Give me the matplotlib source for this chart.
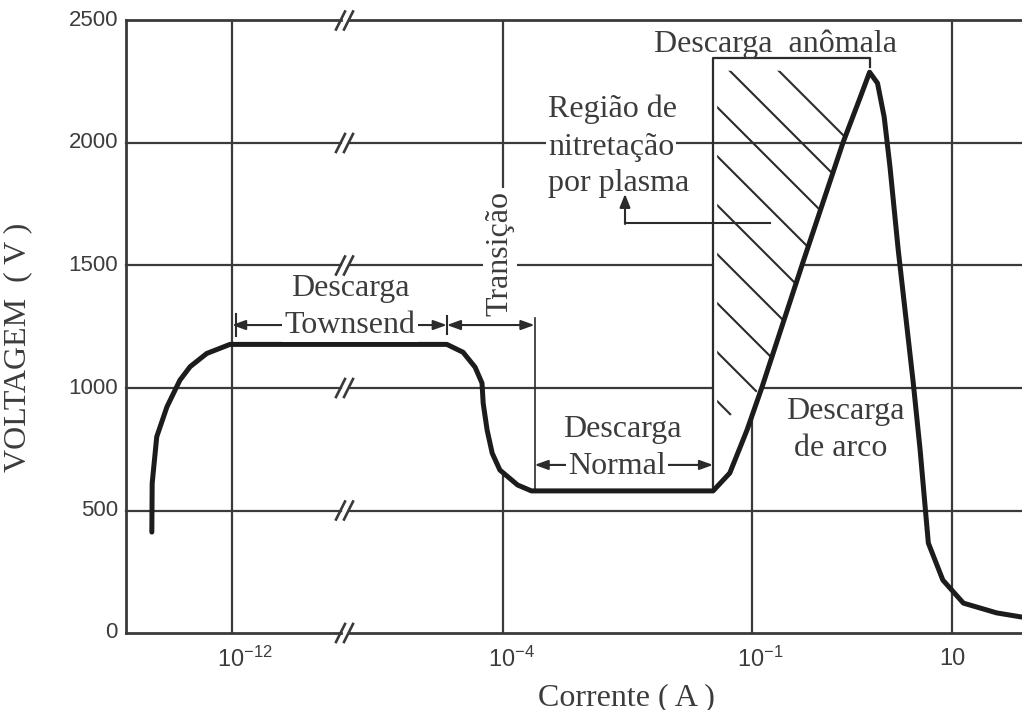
import numpy as np
import matplotlib
matplotlib.use("Agg")
import matplotlib.pyplot as plt
from matplotlib.patches import Polygon, FancyArrowPatch
from matplotlib.lines import Line2D

# ---- discharge curve: current (A) vs. voltage (V) ----
CURRENT_A = [4.3e-15, 4.4e-15, 6.0e-15, 1.2e-14, 2.9e-14, 5.8e-14, 1.8e-13, 8.7e-13,
             2.2e-6, 6.6e-6, 1.5e-5, 2.4e-5, 2.6e-5, 3.4e-5, 4.8e-5, 8.1e-5, 1.5e-4, 2.2e-4,
             3.4e-2, 5.4e-2, 8.7e-2, 0.126, 0.316, 0.81, 1.2, 1.5,
             1.8, 2.1, 2.4, 2.9, 4.1, 4.8, 5.8, 8.1, 13.0, 28.0, 50.0]
VOLTAGE_V = [412, 611, 801, 923, 1032, 1087, 1141, 1178,
             1178, 1146, 1085, 1020, 938, 828, 734, 665, 604, 580,
             580, 653, 828, 1004, 1501, 2000, 2183, 2289,
             2244, 2105, 1901, 1563, 1020, 747, 367, 216, 122, 82, 65]

# region limits along the current axis (A)
TOWNSEND_START = 1e-12
TOWNSEND_END = 2.2e-6
TRANSITION_END = 2.4e-4
NORMAL_END = 3.4e-2
ANOMALOUS_PEAK = 1.5

Y_TICKS = [0, 500, 1000, 1500, 2000, 2500]
X_TICKS = [1e-12, 1e-4, 1e-1, 10]
X_TICK_LABELS = [r"$\mathregular{10^{-12}}$", r"$\mathregular{10^{-4}}$",
                 r"$\mathregular{10^{-1}}$", "10"]

# ---- broken logarithmic current axis (different spacing per decade range) ----
LOG_KNOTS = np.array([-12.0, -4.0, -1.0, 1.0])
POS_KNOTS = np.array([0.0, 271.0, 520.0, 720.0])
S_LO = (POS_KNOTS[1] - POS_KNOTS[0]) / (LOG_KNOTS[1] - LOG_KNOTS[0])
S_HI = (POS_KNOTS[-1] - POS_KNOTS[-2]) / (LOG_KNOTS[-1] - LOG_KNOTS[-2])


def _fwd(x):
    lx = np.log10(np.maximum(np.asarray(x, float), 1e-300))
    y = np.interp(lx, LOG_KNOTS, POS_KNOTS)
    y = np.where(lx < LOG_KNOTS[0], POS_KNOTS[0] + (lx - LOG_KNOTS[0]) * S_LO, y)
    y = np.where(lx > LOG_KNOTS[-1], POS_KNOTS[-1] + (lx - LOG_KNOTS[-1]) * S_HI, y)
    return y


def _inv(p):
    p = np.asarray(p, float)
    lx = np.interp(p, POS_KNOTS, LOG_KNOTS)
    lx = np.where(p < POS_KNOTS[0], LOG_KNOTS[0] + (p - POS_KNOTS[0]) / S_LO, lx)
    lx = np.where(p > POS_KNOTS[-1], LOG_KNOTS[-1] + (p - POS_KNOTS[-1]) / S_HI, lx)
    return 10.0 ** lx


plt.rcParams["mathtext.fontset"] = "custom"
plt.rcParams["mathtext.rm"] = "Liberation Sans"

INK = "#2b2b2b"
GRID = "#3a3a3a"
TXT = "#3c3c3c"
SERIF = "Liberation Serif"
SANS = "Liberation Sans"
FS = 23

W, H = 1022, 710
fig = plt.figure(figsize=(W / 100, H / 100), dpi=100)
fig.patch.set_facecolor("white")


def fxy(px, py):
    return (px / W, 1 - py / H)


ax = fig.add_axes([126 / W, 1 - 633 / H, (W - 126) / W, (633 - 20.5) / H])
ax.set_xscale("function", functions=(_fwd, _inv))
ax.set_xlim(_inv(-106), _inv(790))
ax.set_ylim(0, 2500)
ax.set_xticks([])
ax.set_yticks([])
for side in ["top", "right", "bottom"]:
    ax.spines[side].set_visible(False)
ax.spines["left"].set_color(GRID)
ax.spines["left"].set_linewidth(2)

xlo, xhi = ax.get_xlim()
cur = np.array(CURRENT_A)
volt = np.array(VOLTAGE_V)
rise = slice(18, 26)


def to_fig(x, v):
    d = ax.transData.transform((x, v))
    return fig.transFigure.inverted().transform(d)


# ---- horizontal grid lines with axis-break marks ----
brk_l, brk_r = _inv(341 - 232), _inv(350 - 232)
for v in Y_TICKS:
    lw = 2.0 if v in (0, 2500) else 1.6
    ax.plot([xlo, brk_l], [v, v], color=GRID, lw=lw, zorder=1, clip_on=False)
    ax.plot([brk_r, xhi], [v, v], color=GRID, lw=lw, zorder=1, clip_on=False)
    bx, by = to_fig(brk_l, v)
    for dx in (0.0, 8.0):
        x0 = bx + (dx - 5) / W
        ax.add_line(Line2D([x0, x0 + 9 / W], [by - 9 / H, by + 9 / H],
                           transform=fig.transFigure, color=GRID, lw=1.9,
                           zorder=1.2, clip_on=False))

# ---- vertical grid lines ----
v_cross = np.interp(np.log10(0.1), np.log10(cur[rise]), volt[rise])
ax.plot([1e-12, 1e-12], [0, 2500], color=GRID, lw=1.6, zorder=1)
ax.plot([10, 10], [0, 2500], color=GRID, lw=1.6, zorder=1)
ax.plot([1e-4, 1e-4], [0, 645], color=GRID, lw=1.6, zorder=1)
ax.plot([1e-4, 1e-4], [1820, 2500], color=GRID, lw=1.6, zorder=1)
ax.plot([1e-1, 1e-1], [0, v_cross], color=GRID, lw=1.6, zorder=1)

# ---- blank area inside the anomalous-discharge box ----
rc, rv = cur[rise], volt[rise]
top_mask = 1800
x_top = 10 ** np.interp(top_mask, rv, np.log10(rc))
keep = rv < top_mask
mask_verts = [(NORMAL_END, 580), (NORMAL_END, top_mask), (x_top, top_mask)]
mask_verts += [(c, v) for c, v in zip(rc[keep][::-1], rv[keep][::-1])]
ax.add_patch(Polygon(mask_verts, closed=True, facecolor="white",
                     edgecolor="none", zorder=1.5))

# ---- hatching of the plasma nitriding region ----
clip_verts = [(NORMAL_END * 1.12, 840), (NORMAL_END * 1.12, 2295), (ANOMALOUS_PEAK, 2295)]
clip_verts += [(c, v) for c, v in zip(rc[::-1], rv[::-1]) if v > 840]
clip_poly = Polygon(clip_verts, closed=True, transform=ax.transData)
for c in np.arange(-708, -300, 49):
    x0, x1 = 700, 900
    l = Line2D([x0 / W, x1 / W], [1 - (x0 + c) / H, 1 - (x1 + c) / H],
               transform=fig.transFigure, color=INK, lw=1.5, zorder=2)
    ax.add_line(l)
    l.set_clip_path(clip_poly)

# ---- discharge curve ----
ax.plot(CURRENT_A, VOLTAGE_V, color="#1c1c1c", lw=3.6, zorder=3,
        solid_joinstyle="round", solid_capstyle="round")

# ---- region brackets ----
def darrow(x0, x1, v):
    ax.add_patch(FancyArrowPatch((x0, v), (x1, v),
                                 arrowstyle="<|-|>,head_length=0.5,head_width=0.18",
                                 mutation_scale=16, color=INK, lw=1.5,
                                 shrinkA=0, shrinkB=0, zorder=2.5))


def vline(x, v0, v1, lw=1.5):
    ax.plot([x, x], [v0, v1], color=INK, lw=lw, zorder=2.5)


v_town = 1257
darrow(TOWNSEND_START, TOWNSEND_END, v_town)
vline(TOWNSEND_START * 1.35, v_town - 45, v_town + 45)
vline(TOWNSEND_END, v_town - 35, v_town + 35)
darrow(TOWNSEND_END, TRANSITION_END, v_town)
vline(TRANSITION_END, 580, v_town + 30, lw=1.2)
v_norm = 686
darrow(TRANSITION_END, NORMAL_END, v_norm)
v_anom = 2347
ax.plot([NORMAL_END, NORMAL_END, ANOMALOUS_PEAK, ANOMALOUS_PEAK],
        [580, v_anom, v_anom, v_anom - 35], color=INK, lw=1.6, zorder=2.5)

# pointer from the nitriding label
ax.add_line(Line2D([770 / W, 625 / W], [1 - 223 / H, 1 - 223 / H],
                   transform=fig.transFigure, color=INK, lw=1.5, zorder=2.5))
ax.annotate("", xy=fxy(625, 194), xytext=fxy(625, 224), xycoords="figure fraction",
            textcoords="figure fraction",
            arrowprops=dict(arrowstyle="-|>,head_length=0.5,head_width=0.2",
                            color=INK, lw=1.5, shrinkA=0, shrinkB=0,
                            mutation_scale=16), zorder=2.5)

# ---- labels ----
def label(px, py, s, ha="center", va="baseline", rot=0, box=False, size=FS):
    kw = dict(ha=ha, va=va, rotation=rot, fontsize=size, family=SERIF,
              color=TXT, zorder=4, transform=fig.transFigure)
    if box:
        kw["bbox"] = dict(facecolor="white", edgecolor="none", pad=1.5)
    ax.text(*fxy(px, py), s, **kw)


label(350, 296, "Descarga")
label(350, 333, "Townsend", box=True)
label(500, 253, "Transição", va="center", rot=90, box=True)
label(548, 117, "Região de", ha="left")
label(548, 155, "nitretação", ha="left", box=True)
label(548, 191, "por plasma", ha="left")
label(776, 52, "Descarga  anômala")
label(622, 437, "Descarga")
label(617, 474, "Normal", box=True)
label(845, 419, "Descarga")
label(841, 456, "de arco")

fig.text(*fxy(18, 347), "VOLTAGEM  ( V )", rotation=90, ha="center", va="center",
         fontsize=FS, family=SERIF, color=TXT)
fig.text(*fxy(626, 705), "Corrente ( A )", ha="center", va="baseline",
         fontsize=FS, family=SERIF, color=TXT)

# ---- tick labels ----
for v in Y_TICKS:
    _, fy = to_fig(xlo, v)
    fig.text(118 / W, fy, str(v), ha="right", va="center", fontsize=16,
             family=SANS, color=TXT)
for x, s in zip(X_TICKS, X_TICK_LABELS):
    fx, _ = to_fig(x, 0)
    if s.startswith("$"):
        fig.text(fx - 15 / W, 1 - 667 / H, s, ha="left", va="baseline",
                 fontsize=17, family=SANS, color=TXT)
    else:
        fig.text(fx, 1 - 665 / H, s, ha="center", va="baseline",
                 fontsize=17, family=SANS, color=TXT)

fig.savefig("out.png", dpi=100, facecolor="white")
